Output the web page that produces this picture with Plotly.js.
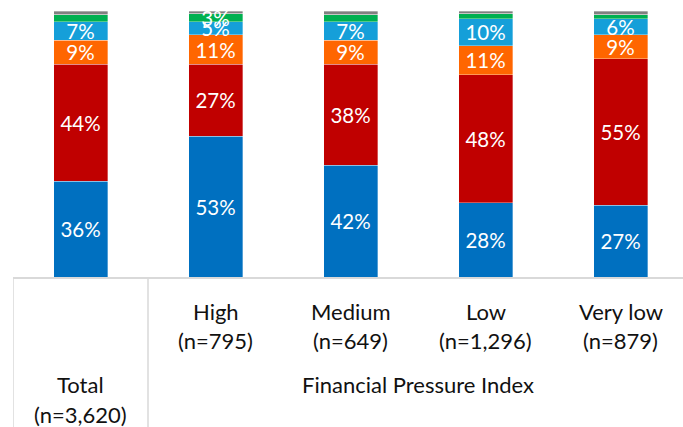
<!DOCTYPE html>
<html>
<head>
<meta charset="utf-8">
<script src="https://cdn.plot.ly/plotly-3.0.1.min.js"></script>
<style>html,body{margin:0;padding:0;background:#fff;}#chart{width:683px;height:427px;}</style>
</head>
<body>
<div id="chart"></div>
<script>
// ---- data ----
var categories = ['Total', 'High', 'Medium', 'Low', 'Very low'];
var sampleSizes = ['(n=3,620)', '(n=795)', '(n=649)', '(n=1,296)', '(n=879)'];
var groupTitle = 'Financial Pressure Index';

var seriesBlue      = [36, 53, 42, 28, 27];
var seriesRed       = [44, 27, 38, 48, 55];
var seriesOrange    = [9, 11, 9, 11, 9];
var seriesLightBlue = [7, 5, 7, 10, 6];
var seriesGreen     = [2.5, 3, 2.5, 2, 1.5];
var seriesGray      = [1.5, 1, 1.5, 1, 1.5];

var stacked = [
  {name: 'Blue', values: seriesBlue, color: '#0070C0'},
  {name: 'Red', values: seriesRed, color: '#C00000'},
  {name: 'Orange', values: seriesOrange, color: '#FF6600'},
  {name: 'Light blue', values: seriesLightBlue, color: '#159FD9'},
  {name: 'Green', values: seriesGreen, color: '#00B050'}
];
var topSeries = {name: 'Gray', values: seriesGray, color: '#808080'};

var FONT = 'Lato, "Open Sans", sans-serif';
var H = 427, T = 11, B = 150, PH = H - T - B;
function py(p) { return (H - B - p) / PH; }

function barTrace(s, extra) {
  var t = {
    type: 'bar',
    name: s.name,
    x: categories,
    y: s.values,
    width: 0.4,
    marker: {color: s.color, line: {color: 'rgba(255,255,255,0.55)', width: 0.6}},
    text: s.values.map(function (v) { return v >= 3 ? Math.round(v) + '%' : ''; }),
    textposition: 'inside',
    insidetextanchor: 'middle',
    textangle: 0,
    constraintext: 'none',
    cliponaxis: false,
    textfont: {family: FONT, size: 20.5, color: '#ffffff'},
    hoverinfo: 'x+y'
  };
  for (var k in extra) t[k] = extra[k];
  return t;
}

// top (gray) segment sits on the stacked total; drawn first so labels of thin segments stay visible
var stackTotals = categories.map(function (c, i) {
  return stacked.reduce(function (acc, s) { return acc + s.values[i]; }, 0);
});
var traces = [barTrace(topSeries, {base: stackTotals})];
stacked.forEach(function (s) { traces.push(barTrace(s, {})); });

var LBL = {family: FONT, size: 22, color: '#111'};
var annotations = [];
categories.forEach(function (c, i) {
  var isTotal = i === 0;
  annotations.push({
    x: c, xref: 'x', y: py(isTotal ? 384.7 : 311), yref: 'paper',
    text: c, showarrow: false, xanchor: 'center', yanchor: 'middle', font: LBL
  });
  annotations.push({
    x: c, xref: 'x', y: py(isTotal ? 414.7 : 340.5), yref: 'paper',
    text: sampleSizes[i], showarrow: false, xanchor: 'center', yanchor: 'middle', font: LBL
  });
});
annotations.push({
  x: 2.5, xref: 'x', y: py(385), yref: 'paper',
  text: groupTitle, showarrow: false, xanchor: 'center', yanchor: 'middle', font: LBL
});

var lineStyle = {color: '#D9D9D9', width: 1.5};
var layout = {
  width: 683, height: 427,
  margin: {l: 13, r: 0, t: T, b: B, pad: 0},
  paper_bgcolor: '#ffffff', plot_bgcolor: '#ffffff',
  barmode: 'stack',
  showlegend: false,
  xaxis: {
    type: 'category', range: [-0.5, 4.463], showticklabels: false,
    showgrid: false, zeroline: false, showline: true, linecolor: '#D9D9D9', linewidth: 1.5,
    ticks: '', fixedrange: true
  },
  yaxis: {range: [0, 100], visible: false, fixedrange: true},
  shapes: [
    {type: 'line', xref: 'x', yref: 'paper', x0: -0.5, x1: -0.5, y0: 0, y1: py(H), line: lineStyle},
    {type: 'line', xref: 'x', yref: 'paper', x0: 0.5, x1: 0.5, y0: 0, y1: py(H), line: lineStyle}
  ],
  annotations: annotations,
  font: {family: FONT}
};

Plotly.newPlot('chart', traces, layout, {displayModeBar: false, staticPlot: true});
</script>
</body>
</html>
